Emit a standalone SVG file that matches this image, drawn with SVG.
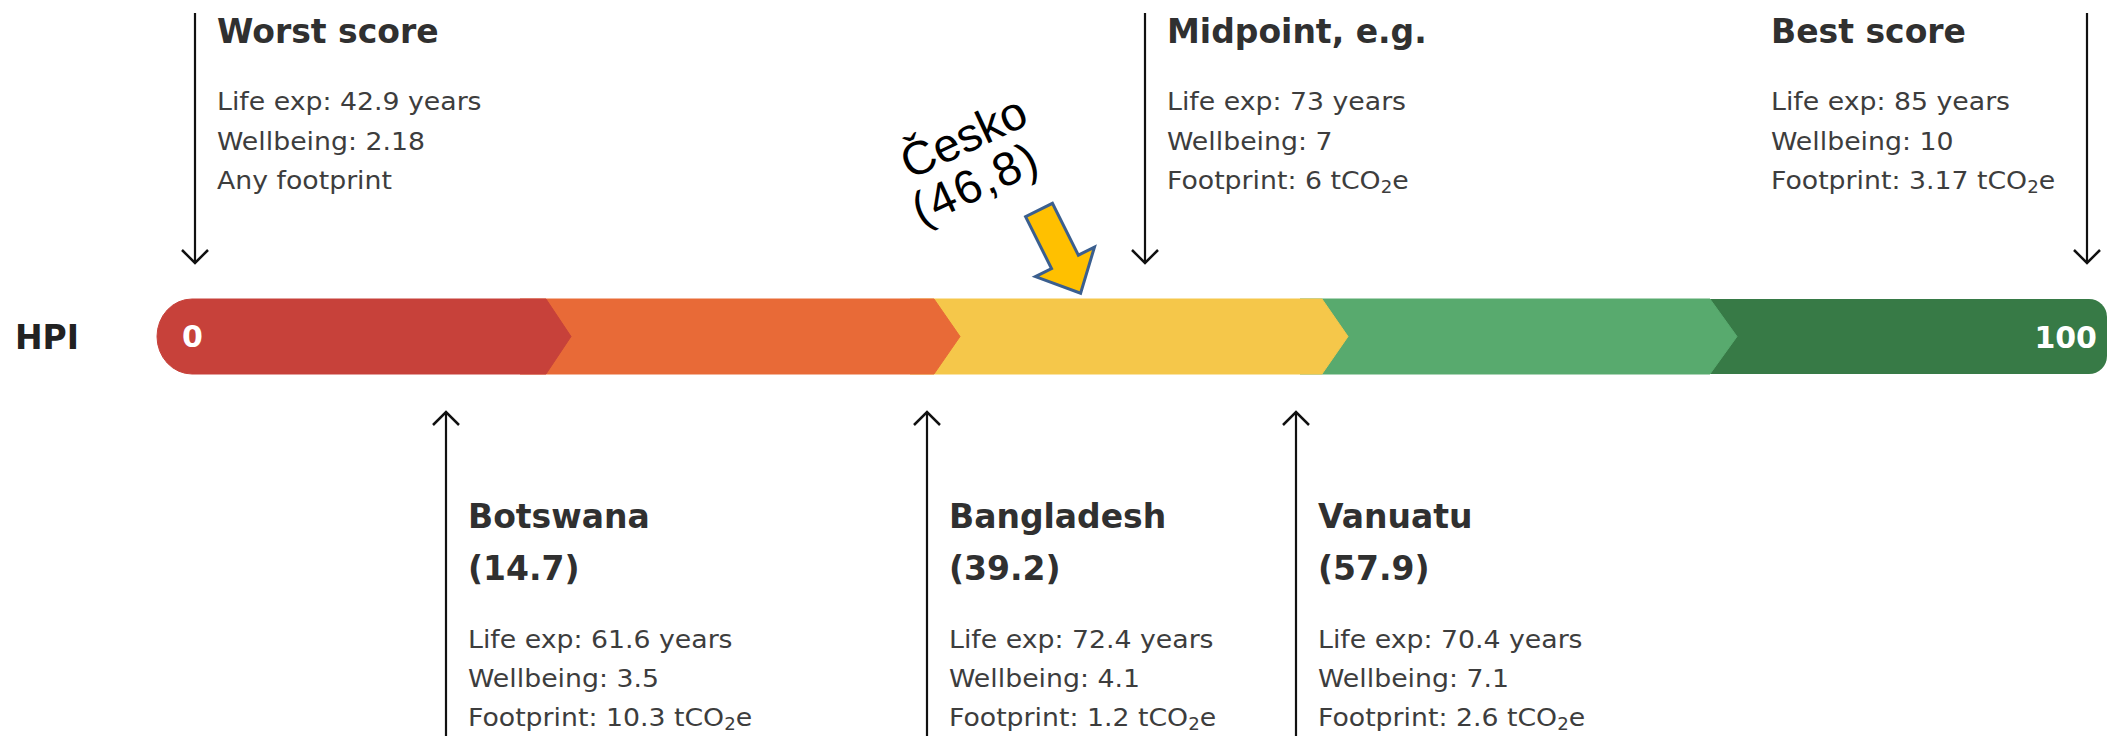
<svg xmlns="http://www.w3.org/2000/svg" width="2109" height="736" viewBox="0 0 2109 736">
<style>
.hd{font-family:"DejaVu Sans",sans-serif;font-weight:bold;font-size:33px;fill:#303030}
.bd{font-family:"DejaVu Sans",sans-serif;font-size:25px;fill:#3d3d3d}
.sub{font-size:17px}
.cn{stroke:#111;stroke-width:2.2;fill:none}
.lbl{font-family:"DejaVu Sans",sans-serif;font-weight:bold;font-size:30px;fill:#fff}
.cz{font-family:"Liberation Sans",Arial,sans-serif;font-size:47px;fill:#000;text-anchor:middle}
</style>
<defs>
<marker id="ah" viewBox="-16 -16 20 32" refX="0" refY="0" markerWidth="20" markerHeight="32" markerUnits="userSpaceOnUse" orient="auto">
<path d="M-13,-13 L0,0 L-13,13" fill="none" stroke="#111" stroke-width="2.5"/>
</marker>
</defs>
<rect width="2109" height="736" fill="#fff"/>

<g id="hpi-label"><text x="15" y="349" style="font-family:'DejaVu Sans',sans-serif;font-weight:bold;font-size:33px;fill:#222">HPI</text></g>

<g id="bar">
<path d="M1690,299 H2089 A18,18 0 0 1 2107,317 V356 A18,18 0 0 1 2089,374 H1690 Z" fill="#377A46"/>
<path d="M1300,299 H1710 L1737,336.5 L1710,374 H1300 Z" fill="#58AA6E" stroke="#58AA6E" stroke-width="1" stroke-linejoin="round"/>
<path d="M910,299 H1322 L1348,336.5 L1322,374 H910 Z" fill="#F5C74A" stroke="#F5C74A" stroke-width="1" stroke-linejoin="round"/>
<path d="M520,299 H934 L960,336.5 L934,374 H520 Z" fill="#E86A37" stroke="#E86A37" stroke-width="1" stroke-linejoin="round"/>
<path d="M192,299 H546 L571,336.5 L546,374 H192 A35,37.5 0 0 1 157,336.5 A35,37.5 0 0 1 192,299 Z" fill="#C7413A" stroke="#C7413A" stroke-width="1" stroke-linejoin="round"/>
<text class="lbl" x="182" y="347">0</text>
<text class="lbl" x="2097" y="348" text-anchor="end">100</text>
</g>

<g id="connectors">
<line class="cn" x1="195" y1="13" x2="195" y2="263" marker-end="url(#ah)"/>
<line class="cn" x1="1145" y1="13" x2="1145" y2="263" marker-end="url(#ah)"/>
<line class="cn" x1="2087" y1="13" x2="2087" y2="263" marker-end="url(#ah)"/>
<line class="cn" x1="446" y1="740" x2="446" y2="412" marker-end="url(#ah)"/>
<line class="cn" x1="927" y1="740" x2="927" y2="412" marker-end="url(#ah)"/>
<line class="cn" x1="1296" y1="740" x2="1296" y2="412" marker-end="url(#ah)"/>
</g>

<g id="worst">
<text class="hd" x="217" y="43">Worst score</text>
<text class="bd" transform="translate(217,110) scale(1.07,1)">Life exp: 42.9 years</text>
<text class="bd" transform="translate(217,150) scale(1.07,1)">Wellbeing: 2.18</text>
<text class="bd" transform="translate(217,189) scale(1.07,1)">Any footprint</text>
</g>

<g id="midpoint">
<text class="hd" x="1167" y="43">Midpoint, e.g.</text>
<text class="bd" transform="translate(1167,110) scale(1.07,1)">Life exp: 73 years</text>
<text class="bd" transform="translate(1167,150) scale(1.07,1)">Wellbeing: 7</text>
<text class="bd" transform="translate(1167,189) scale(1.07,1)">Footprint: 6 tCO<tspan class="sub" dy="4">2</tspan><tspan dy="-4">e</tspan></text>
</g>

<g id="best">
<text class="hd" x="1771" y="43">Best score</text>
<text class="bd" transform="translate(1771,110) scale(1.07,1)">Life exp: 85 years</text>
<text class="bd" transform="translate(1771,150) scale(1.07,1)">Wellbeing: 10</text>
<text class="bd" transform="translate(1771,189) scale(1.07,1)">Footprint: 3.17 tCO<tspan class="sub" dy="4">2</tspan><tspan dy="-4">e</tspan></text>
</g>

<g id="botswana">
<text class="hd" x="468" y="528">Botswana</text>
<text class="hd" x="468" y="580">(14.7)</text>
<text class="bd" transform="translate(468,648) scale(1.07,1)">Life exp: 61.6 years</text>
<text class="bd" transform="translate(468,687) scale(1.07,1)">Wellbeing: 3.5</text>
<text class="bd" transform="translate(468,726) scale(1.07,1)">Footprint: 10.3 tCO<tspan class="sub" dy="4">2</tspan><tspan dy="-4">e</tspan></text>
</g>

<g id="bangladesh">
<text class="hd" x="949" y="528">Bangladesh</text>
<text class="hd" x="949" y="580">(39.2)</text>
<text class="bd" transform="translate(949,648) scale(1.07,1)">Life exp: 72.4 years</text>
<text class="bd" transform="translate(949,687) scale(1.07,1)">Wellbeing: 4.1</text>
<text class="bd" transform="translate(949,726) scale(1.07,1)">Footprint: 1.2 tCO<tspan class="sub" dy="4">2</tspan><tspan dy="-4">e</tspan></text>
</g>

<g id="vanuatu">
<text class="hd" x="1318" y="528">Vanuatu</text>
<text class="hd" x="1318" y="580">(57.9)</text>
<text class="bd" transform="translate(1318,648) scale(1.07,1)">Life exp: 70.4 years</text>
<text class="bd" transform="translate(1318,687) scale(1.07,1)">Wellbeing: 7.1</text>
<text class="bd" transform="translate(1318,726) scale(1.07,1)">Footprint: 2.6 tCO<tspan class="sub" dy="4">2</tspan><tspan dy="-4">e</tspan></text>
</g>

<g id="cesko">
<g transform="translate(967,161) rotate(-25)">
<text class="cz" x="7" y="-7">Česko</text>
<text class="cz" x="-2" y="40" style="letter-spacing:2px">(46,8)</text>
</g>
<g transform="translate(1039,210) rotate(63.43)">
<path d="M0,-15 L58,-15 L58,-33 L93,0 L58,33 L58,15 L0,15 Z" fill="#FFC000" stroke="#3B5F8F" stroke-width="3" stroke-linejoin="miter"/>
</g>
</g>
</svg>
